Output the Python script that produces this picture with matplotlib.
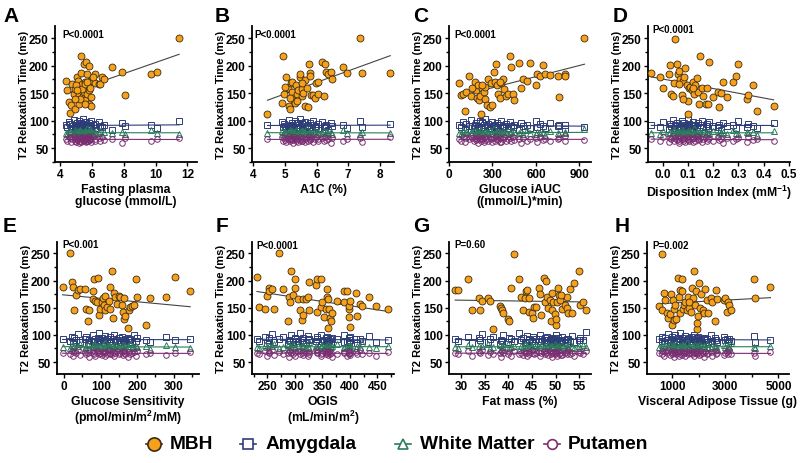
import numpy as np
import matplotlib.pyplot as plt
from matplotlib.lines import Line2D
from matplotlib.ticker import MultipleLocator

plt.rcParams['font.family'] = ['Liberation Sans', 'DejaVu Sans']
plt.rcParams['font.weight'] = 'bold'
plt.rcParams['mathtext.fontset'] = 'custom'
plt.rcParams['mathtext.rm'] = 'Liberation Sans:bold'
plt.rcParams['mathtext.bf'] = 'Liberation Sans:bold'
plt.rcParams['mathtext.it'] = 'Liberation Sans:bold'
plt.rcParams['mathtext.default'] = 'bf'

# ---- data ----
# subject-level T2 values for the control regions (ms)
amyg_t2 = [92, 88, 97, 85, 94, 90, 101, 87, 93, 96, 84, 91, 89, 99, 86, 95, 92, 88, 103, 90,
           94, 87, 85, 98, 91, 93, 89, 96, 82, 92, 100, 88, 90, 94, 86, 97, 91, 89, 93, 84,
           95, 90, 92, 87, 99, 88, 94, 91, 86, 96, 90, 93, 85, 92, 89, 98, 87, 91, 94, 90,
           106, 88, 92, 95, 86, 90, 93, 89, 97, 91]
wm_t2 = [78, 75, 82, 77, 80, 73, 79, 84, 76, 78, 81, 74, 79, 77, 83, 76, 78, 80, 72, 79,
         77, 81, 75, 78, 86, 76, 79, 74, 80, 78, 77, 82, 75, 79, 76, 78, 81, 73, 80, 77,
         79, 76, 83, 78, 75, 80, 77, 79, 74, 81, 78, 76, 80, 77, 85, 78, 75, 79, 76, 82,
         78, 74, 80, 77, 79, 76, 81, 78, 75, 79]
put_t2 = [67, 64, 70, 62, 68, 66, 72, 63, 69, 65, 67, 60, 71, 66, 64, 68, 62, 70, 65, 67,
          63, 69, 66, 61, 68, 64, 73, 66, 65, 69, 62, 67, 70, 64, 66, 68, 63, 71, 65, 67,
          59, 69, 64, 66, 68, 62, 70, 65, 67, 63, 66, 69, 64, 72, 65, 67, 61, 68, 66, 64,
          70, 63, 67, 65, 69, 62, 66, 68, 64, 67]

# A: fasting plasma glucose
fpg_x = [4.40, 4.46, 4.60, 4.73, 4.67, 4.77, 4.88, 4.94, 4.98, 5.08, 5.13, 5.19, 5.19, 5.23, 5.29,
         5.33, 5.35, 5.40, 5.44, 5.50, 5.50, 5.56, 5.60, 5.65, 5.71, 5.71, 5.77, 5.81, 5.85, 5.92,
         5.98, 5.98, 5.81, 6.19, 6.23, 6.44, 6.54, 6.65, 6.75, 7.27, 7.90, 8.06, 9.73, 10.08, 11.48,
         5.02, 5.40, 5.60, 5.08, 5.29, 5.56, 4.98, 5.71, 6.06, 5.92]
fpg_mbh = [172, 155, 134, 128, 114, 166, 149, 122, 158, 180, 173, 155, 146, 131, 161,
           218, 186, 167, 144, 152, 203, 170, 137, 206, 185, 149, 164, 155, 131, 172,
           143, 126, 200, 185, 168, 166, 167, 180, 176, 198, 189, 146, 185, 189, 250,
           164, 158, 167, 155, 140, 131, 140, 170, 179, 160]

# B: A1C
a1c_x = [4.45, 4.94, 4.91, 5.03, 4.98, 5.09, 5.13, 5.16, 5.20, 5.22, 5.24, 5.27, 5.30, 5.32, 5.35,
         5.37, 5.42, 5.47, 5.49, 5.53, 5.55, 5.58, 5.63, 5.65, 5.71, 5.73, 5.75, 5.78, 5.78, 5.84,
         5.89, 5.94, 5.99, 6.04, 6.06, 6.16, 6.23, 6.27, 6.30, 6.35, 6.45, 6.50, 6.85, 6.95, 7.38,
         7.43, 8.33, 5.01, 5.37, 5.53, 5.16]
a1c_mbh = [113, 218, 133, 180, 148, 160, 127, 121, 168, 171, 153, 142, 136, 133, 165,
           148, 156, 180, 184, 158, 145, 151, 174, 127, 159, 125, 203, 186, 182, 146,
           146, 142, 169, 171, 149, 206, 145, 203, 189, 184, 189, 176, 197, 186, 250,
           187, 187, 162, 136, 168, 142]

# C: glucose iAUC
iauc_x = [70, 80, 100, 110, 120, 140, 150, 170, 180, 185, 190, 200, 210, 215, 220,
          230, 240, 245, 250, 260, 270, 280, 290, 300, 310, 320, 325, 330, 340, 350,
          360, 370, 380, 390, 410, 420, 430, 440, 450, 480, 500, 510, 540, 560, 600,
          610, 630, 650, 660, 700, 750, 760, 800, 800, 935, 230, 350, 160]
iauc_mbh = [168, 147, 148, 118, 153, 182, 145, 160, 170, 155, 142, 165, 138, 145, 112,
            160, 152, 140, 162, 128, 175, 125, 168, 128, 188, 170, 203, 165, 148, 142,
            168, 175, 158, 145, 148, 218, 197, 148, 137, 205, 160, 175, 172, 205, 165,
            185, 182, 202, 185, 183, 182, 143, 185, 182, 250, 165, 170, 160]

# D: disposition index
di_x = [-0.045, -0.01, 0.0, 0.025, 0.03, 0.035, 0.04, 0.045, 0.05, 0.055, 0.06, 0.065, 0.07, 0.075,
        0.08, 0.085, 0.09, 0.095, 0.1, 0.1, 0.105, 0.11, 0.115, 0.12, 0.125, 0.13, 0.135, 0.14,
        0.145, 0.15, 0.155, 0.16, 0.17, 0.175, 0.18, 0.185, 0.2, 0.22, 0.225, 0.23, 0.24, 0.255,
        0.28, 0.29, 0.3, 0.335, 0.34, 0.36, 0.375, 0.44, 0.08, 0.12, 0.065]
di_mbh = [187, 180, 160, 185, 202, 148, 145, 168, 248, 203, 185, 190, 175, 147,
          172, 180, 195, 165, 135, 112, 160, 162, 155, 170, 148, 165, 177, 152,
          130, 218, 160, 145, 130, 160, 130, 206, 143, 152, 125, 150, 170, 143,
          170, 182, 203, 140, 147, 165, 118, 127, 140, 160, 167]

# E: glucose sensitivity
gs_x = [-4.6, 16.5, 21, 23, 27.5, 32, 39, 44, 58, 59.5, 64, 68.7, 78, 79, 80.5, 92.5, 85, 89.6,
        94, 99, 103.5, 106, 110, 112.6, 110.8, 117, 122, 126, 131, 133, 135.5, 140, 144.7, 149,
        154, 158, 161, 163, 166, 163, 175, 177, 181, 186, 190.5, 197, 200, 224, 236, 279, 303,
        346, 126]
gs_mbh = [188, 250, 197, 188, 145, 174, 183, 185, 185, 148, 125, 146, 181, 166, 202, 204, 163, 160,
          137, 148, 161, 167, 155, 145, 172, 151, 163, 189, 218, 131, 177, 169, 157, 172,
          169, 155, 142, 130, 134, 167, 112, 145, 151, 154, 155, 203, 170, 118, 167, 169, 207,
          181, 148]

# F: OGIS
ogis_x = [231, 234, 245, 250, 252, 252, 259, 262.5, 271, 279, 287.5, 288.7, 290.5, 293.5, 296.4,
          299.4, 301, 305, 310, 313, 314, 314, 320, 323, 326, 326, 338, 340, 348, 341,
          347, 350, 352, 356, 358, 359, 360, 362, 364, 365, 366.5, 360, 377, 389, 389,
          395, 398, 398, 399, 400.5, 400, 411, 413, 418, 421, 435, 447, 469]
ogis_mbh = [207, 152, 147, 171, 186, 180, 185, 147, 250, 185, 125, 169, 161, 218, 174,
            202, 187, 166, 145, 128, 137, 166, 166, 169, 145, 197, 191, 203, 203, 143,
            151, 161, 133, 148, 185, 169, 166, 148, 131, 126, 141, 112, 163, 161, 181,
            180, 148, 133, 154, 163, 114, 177, 134, 157, 154, 169, 154, 147]

# G: fat mass
fat_x = [28.8, 29.5, 31.5, 32.3, 33.8, 34, 34.5, 35.8, 36.2, 36.8, 38.2, 38.5, 38.8, 39, 40,
         40.2, 40.5, 41.3, 42.3, 42.8, 43.2, 43.5, 43.7, 44, 44.3, 44.5, 45, 45.2, 45.5, 46.5,
         46.8, 46.9, 47.5, 47.7, 47.9, 48.2, 48.5, 48.8, 49, 49.2, 49.3, 49.5, 49.8, 50, 50.1,
         50.3, 50.5, 50.8, 51, 51.3, 52, 52.4, 52.5, 52.6, 53, 53.5, 54, 55, 55.2, 55.8,
         56.5, 51.2, 45.8]
fat_mbh = [183, 183, 203, 146, 167, 145, 163, 167, 163, 111, 154, 150, 146, 141, 130,
           125, 186, 249, 203, 170, 146, 168, 180, 182, 168, 142, 140, 131, 152, 187,
           176, 136, 205, 160, 200, 170, 150, 165, 126, 145, 178, 160, 138, 118, 130,
           160, 186, 173, 165, 147, 155, 150, 170, 140, 184, 140, 195, 217, 155, 160,
           146, 173, 152]

# H: visceral adipose tissue
vat_x = [500, 600, 620, 700, 720, 800, 850, 900, 950, 1000, 1020, 1050, 1080, 1100, 1150,
         1200, 1250, 1280, 1300, 1350, 1380, 1400, 1450, 1500, 1550, 1600, 1650, 1700, 1750, 1800,
         1830, 1850, 1900, 1920, 1950, 1970, 2000, 2050, 2100, 2150, 2200, 2250, 2300, 2350, 2450,
         2500, 2600, 2650, 2700, 2950, 3000, 3050, 3100, 3150, 3200, 4080, 4120, 4700, 1650]
vat_mbh = [153, 248, 145, 178, 165, 140, 132, 138, 175, 118, 165, 128, 148, 155, 130,
           205, 170, 183, 140, 202, 180, 147, 155, 160, 145, 170, 150, 143, 186, 168,
           217, 155, 180, 110, 122, 135, 196, 150, 175, 145, 140, 185, 165, 140, 168,
           160, 125, 183, 166, 165, 168, 143, 160, 155, 145, 203, 167, 188, 160]

mbh_color = '#F5A11C'
mbh_edge = '#3b2b12'
regions = [
    ('Amygdala', amyg_t2, 's', '#2E3D78'),
    ('White Matter', wm_t2, '^', '#2A7D5A'),
    ('Putamen', put_t2, 'o', '#7B2D72'),
]

# letter, x, mbh, xlabel, xlim, xticks, xminor, p-text, p-pos (axes x, data y),
# (left, top, height) in px, letter pos in px
panels = [
    ('A', fpg_x, fpg_mbh, 'Fasting plasma\nglucose (mmol/L)', (3.7, 12.6), [4, 6, 8, 10, 12], None,
     'P<0.0001', (0.05, 258), (55, 27, 136), (3, 22)),
    ('B', a1c_x, a1c_mbh, 'A1C (%)', (3.96, 8.45), [4, 5, 6, 7, 8], None,
     'P<0.0001', (0.02, 257), (252, 27, 136), (215, 22)),
    ('C', iauc_x, iauc_mbh, 'Glucose iAUC\n((mmol/L)*min)', (0, 980), [0, 300, 600, 900], None,
     'P<0.0001', (0.035, 258), (449, 27, 136), (413, 22)),
    ('D', di_x, di_mbh, 'Disposition Index (mM$^{-1}$)', (-0.058, 0.505),
     [0.0, 0.1, 0.2, 0.3, 0.4, 0.5], None, 'P<0.0001', (0.03, 266), (648, 27, 136), (613, 22)),
    ('E', gs_x, gs_mbh, 'Glucose Sensitivity\n(pmol/min/m$^2$/mM)', (-20, 370), [0, 100, 200, 300], 50,
     'P<0.001', (0.035, 268), (57, 243, 132), (3, 232)),
    ('F', ogis_x, ogis_mbh, 'OGIS\n(mL/min/m$^2$)', (222, 480), [250, 300, 350, 400, 450], 25,
     'P<0.0001', (0.03, 266), (252, 243, 132), (216, 232)),
    ('G', fat_x, fat_mbh, 'Fat mass (%)', (27.5, 57.5), [30, 35, 40, 45, 50, 55], None,
     'P=0.60', (0.035, 267), (449, 243, 132), (413, 232)),
    ('H', vat_x, vat_mbh, 'Visceral Adipose Tissue (g)', (50, 5400), [1000, 3000, 5000], 1000,
     'P=0.002', (0.04, 265), (647, 243, 132), (615, 232)),
]

W, H = 800, 464
fig = plt.figure(figsize=(W / 100, H / 100), dpi=100)

for letter, xv, mbh, xlabel, xlim, xticks, xminor, ptxt, (px, py), (l, t, h), (lx, ly) in panels:
    ax = fig.add_axes([l / W, 1 - (t + h) / H, 142 / W, h / H])
    x = np.asarray(xv, dtype=float)
    n = len(x)
    xs = np.array([x.min(), x.max()])

    for name, t2, mk, col in regions:
        yy = np.asarray(t2[:n], dtype=float)
        ax.plot(x, yy, ls='none', marker=mk, ms=4, mfc='none', mec=col, mew=0.7, zorder=2)
        k, b = np.polyfit(x, yy, 1)
        ax.plot(xs, k * xs + b, color=col, lw=0.8, zorder=3)

    y = np.asarray(mbh, dtype=float)
    k, b = np.polyfit(x, y, 1)
    ax.plot(xs, k * xs + b, color='#444444', lw=0.8, zorder=4)
    ax.plot(x, y, ls='none', marker='o', ms=5, mfc=mbh_color, mec=mbh_edge, mew=0.6, zorder=5)

    ax.set_xlim(*xlim)
    if t < 100:
        ax.set_ylim(25, 272)
    else:
        ax.set_ylim(28, 271)
    ax.set_xticks(xticks)
    if letter == 'D':
        ax.set_xticklabels(['%.1f' % v for v in xticks])
    if xminor:
        ax.xaxis.set_minor_locator(MultipleLocator(xminor))
    ax.set_yticks([50, 100, 150, 200, 250])
    ax.yaxis.set_minor_locator(MultipleLocator(25))

    for s in ['top', 'right']:
        ax.spines[s].set_visible(False)
    for s in ['left', 'bottom']:
        ax.spines[s].set_linewidth(1.3)
    ax.tick_params(which='major', direction='out', length=3, width=1, labelsize=8.5, pad=1.5)
    ax.tick_params(which='minor', direction='out', length=2, width=1)
    for lab in ax.get_xticklabels() + ax.get_yticklabels():
        lab.set_fontweight('bold')

    ax.set_ylabel('T2 Relaxation Time (ms)', fontsize=8, fontweight='bold')
    ax.yaxis.set_label_coords(-0.185, 0.5)
    ax.set_xlabel(xlabel, fontsize=8.8, fontweight='bold', labelpad=2, linespacing=1.05)

    ax.text(px, py, ptxt, transform=ax.get_yaxis_transform(), fontsize=7, fontweight='bold',
            va='center', zorder=6)

    fig.text(lx / W, 1 - ly / H, letter, fontsize=15, fontweight='bold', va='baseline', ha='left')

# legend, laid out by hand: handle centre and text start in px
legend_labels = ['MBH'] + [r[0] for r in regions]
legend_pos = [(154, 170), (248, 266), (403, 420), (552, 568)]
legend_y = 1 - 445 / H
styles = [('o', 9.5, mbh_color, mbh_edge, '#333333')] + \
         [(mk, 7, 'white', col, col) for _, _, mk, col in regions]
for lab, (hx, tx), (mk, ms, fc, ec, lc) in zip(legend_labels, legend_pos, styles):
    fig.add_artist(Line2D([(hx - 8) / W, (hx + 8) / W], [legend_y, legend_y],
                          transform=fig.transFigure, color=lc, lw=1.2))
    fig.add_artist(Line2D([hx / W], [legend_y], transform=fig.transFigure, ls='none',
                          marker=mk, ms=ms, mfc=fc, mec=ec, mew=1.2))
    fig.text(tx / W, legend_y, lab, fontsize=13.8, fontweight='bold', va='center', ha='left')

fig.savefig('out.png', dpi=100)
